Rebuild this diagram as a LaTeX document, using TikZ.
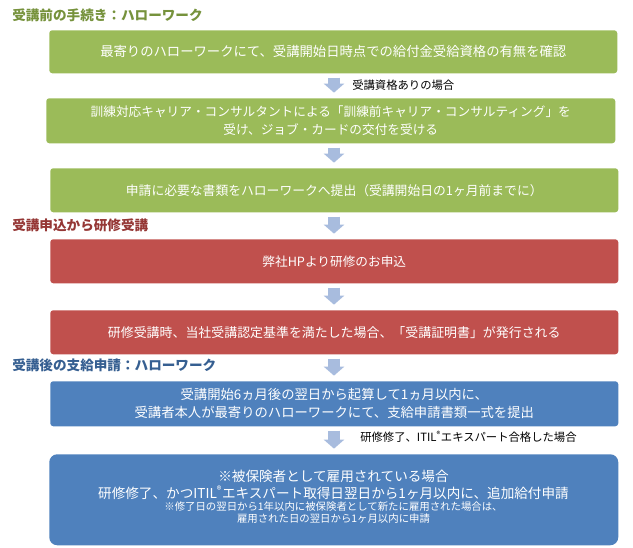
\documentclass[tikz,border=0pt]{standalone}
\usepackage{fontspec}
\setmainfont{Noto Sans CJK JP}
\usetikzlibrary{arrows.meta}

\definecolor{boxgreen}{RGB}{155,187,89}
\definecolor{boxred}{RGB}{192,80,77}
\definecolor{boxblue}{RGB}{79,129,189}
\definecolor{headgreen}{RGB}{118,146,60}
\definecolor{headred}{RGB}{149,55,53}
\definecolor{headblue}{RGB}{54,95,145}
\definecolor{arrowblue}{RGB}{168,188,222}

\tikzset{
  stepbox/.style={anchor=north west,rounded corners=2.25pt,inner sep=0pt,
    minimum width=426pt,minimum height=33pt,align=center,text=white,
    font=\fontsize{9.5}{13.5}\selectfont},
  boxtext/.style={inner sep=0pt,text=white,font=\fontsize{10.2}{12}\selectfont},
  smalltext/.style={inner sep=0pt,text=white,font=\fontsize{7.8}{9}\selectfont},
  heading/.style={anchor=west,inner sep=0pt,font=\fontsize{10.2}{12}\selectfont\bfseries},
  note/.style={anchor=west,inner sep=0pt,font=\fontsize{8.5}{10}\selectfont},
  downarrow/.style={draw=arrowblue,line width=9pt,
    -{Triangle[length=6.75pt,width=15pt]},shorten <=3pt,shorten >=4pt}
}

\begin{document}
\begin{tikzpicture}[x=0.75pt,y=-0.75pt]
	\useasboundingbox (0,0) rectangle (633,548);
	% before the course
	\node[heading,text=headgreen] (h1) at (12,15) {受講前の手続き：ハローワーク};
	\node[stepbox,fill=boxgreen,minimum height=32.25pt,font=\fontsize{10}{13.5}\selectfont] (b1) at (49,30) {最寄りのハローワークにて、受講開始日時点での給付金受給資格の有無を確認};
	\node[stepbox,fill=boxgreen,minimum width=426.75pt,minimum height=33.75pt] (b2) at (46,98) {訓練対応キャリア・コンサルタントによる「訓練前キャリア・コンサルティング」を\\受け、ジョブ・カードの交付を受ける};
	\node[stepbox,fill=boxgreen,font=\fontsize{9.6}{13.5}\selectfont] (b3) at (50,168) {申請に必要な書類をハローワークへ提出（受講開始日の1ヶ月前までに）};
	% application and course
	\node[heading,text=headred] (h2) at (12,225) {受講申込から研修受講};
	\node[stepbox,fill=boxred] (b4) at (50,239) {弊社HPより研修のお申込};
	\node[stepbox,fill=boxred,font=\fontsize{9.7}{13.5}\selectfont] (b5) at (50,310) {研修受講時、当社受講認定基準を満たした場合、「受講証明書」が発行される};
	% after the course
	\node[heading,text=headblue] (h3) at (12,365) {受講後の支給申請：ハローワーク};
	\node[stepbox,fill=boxblue,minimum height=33.75pt,font=\fontsize{10}{13.5}\selectfont] (b6) at (50,381) {受講開始6ヵ月後の翌日から起算して1ヵ月以内に、\\受講者本人が最寄りのハローワークにて、支給申請書類一式を提出};
	\node[stepbox,fill=boxblue,rounded corners=6pt,minimum width=426.75pt,minimum height=68.25pt] (b7) at (49,454) {};
	\node[boxtext] (b7a) at (333.5,476) {※被保険者として雇用されている場合};
	\node[boxtext] (b7b) at (333.5,493) {研修修了、かつITIL\textsuperscript{®}エキスパート取得日翌日から1ヶ月以内に、追加給付申請};
	\node[smalltext] (b7c) at (333.5,507) {※修了日の翌日から1年以内に被保険者として新たに雇用された場合は、};
	\node[smalltext] (b7d) at (333.5,519) {雇用された日の翌日から1ヶ月以内に申請};
	% arrows
	\coordinate (ax) at (334,0);
	\draw[downarrow] (b1.south -| ax) -- (b2.north -| ax);
	\draw[downarrow] (b2.south -| ax) -- (b3.north -| ax);
	\draw[downarrow] (b3.south -| ax) -- (b4.north -| ax);
	\draw[downarrow] (b4.south -| ax) -- (b5.north -| ax);
	\draw[downarrow] (b5.south -| ax) -- (b6.north -| ax);
	\draw[downarrow] (b6.south -| ax) -- (b7.north -| ax);
	\node[note] (l1) at (352,85) {受講資格ありの場合};
	\node[note] (l2) at (360,437) {研修修了、ITIL\textsuperscript{®}エキスパート合格した場合};
\end{tikzpicture}
\end{document}
